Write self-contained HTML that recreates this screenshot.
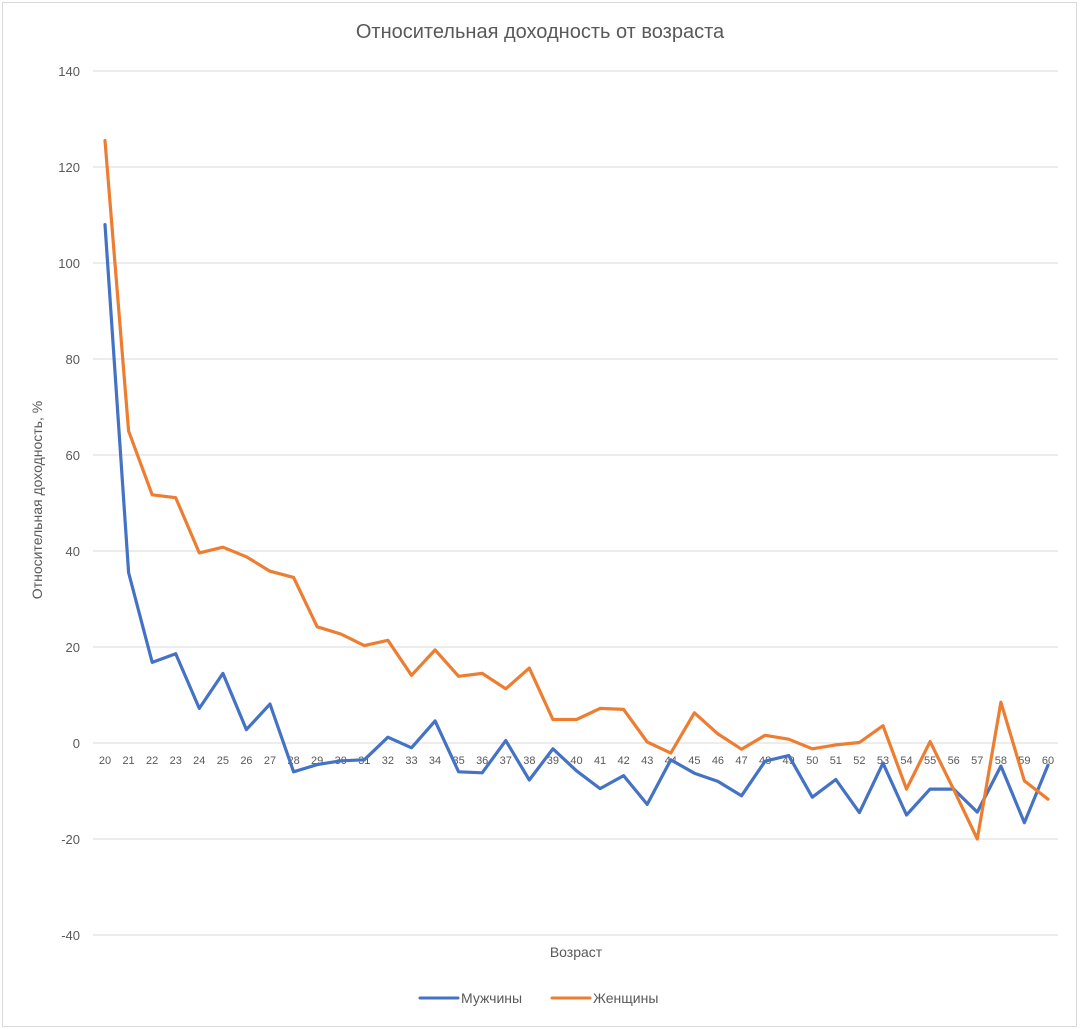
<!DOCTYPE html>
<html><head><meta charset="utf-8"><style>
body{margin:0;background:#fff}
svg{display:block;font-family:"Liberation Sans",sans-serif}
</style></head><body>
<svg id="s" width="1080" height="1029" xmlns="http://www.w3.org/2000/svg">
<rect x="2.5" y="2.5" width="1074" height="1024" fill="#fff" stroke="#d9d9d9"/>
<text x="540" y="38" font-size="20" fill="#595959" text-anchor="middle">Относительная доходность от возраста</text>
<text transform="translate(42,500) rotate(-90)" font-size="14" fill="#595959" text-anchor="middle">Относительная доходность, %</text>
<text x="576" y="957" font-size="14" fill="#595959" text-anchor="middle">Возраст</text>
<line x1="420" y1="998" x2="458" y2="998" stroke="#4472C4" stroke-width="3" stroke-linecap="round"/>
<text x="461" y="1003" font-size="14" fill="#595959">Мужчины</text>
<line x1="552" y1="998" x2="590" y2="998" stroke="#ED7D31" stroke-width="3" stroke-linecap="round"/>
<text x="593" y="1003" font-size="14" fill="#595959">Женщины</text>
<g id="g"></g>
</svg>
<script>
var g=document.getElementById('g'),ns='http://www.w3.org/2000/svg',h='';
function Y(v){return 743-v*4.8}
function X(i){return 105+i*23.575}
for(var v=-40;v<=140;v+=20){h+='<line x1="93" x2="1058" y1="'+Y(v)+'" y2="'+Y(v)+'" stroke="#d9d9d9" stroke-width="1"/>';
h+='<text x="80" y="'+(Y(v)+5)+'" font-size="13" fill="#595959" text-anchor="end">'+v+'</text>';}
for(var i=0;i<=40;i++)h+='<text x="'+X(i)+'" y="764" font-size="11" fill="#595959" text-anchor="middle">'+(20+i)+'</text>';
var m=[108,35.5,16.8,18.6,7.2,14.5,2.8,8.1,-6,-4.5,-3.7,-3.5,1.2,-1,4.6,-6,-6.2,0.5,-7.7,-1.2,-5.8,-9.5,-6.8,-12.8,-3.5,-6.3,-8,-11,-3.8,-2.6,-11.3,-7.6,-14.5,-4.2,-15,-9.6,-9.6,-14.4,-4.8,-16.6,-4.6];
var w=[125.5,65,51.7,51.1,39.6,40.8,38.8,35.8,34.5,24.2,22.7,20.3,21.4,14.1,19.4,13.9,14.5,11.3,15.6,4.9,4.9,7.2,7,0.2,-2.1,6.3,1.9,-1.3,1.6,0.8,-1.2,-0.4,0.1,3.6,-9.6,0.3,-9.7,-20,8.5,-7.9,-11.7];
function pl(d,c){return '<polyline fill="none" stroke="'+c+'" stroke-width="3.2" stroke-linejoin="round" stroke-linecap="round" points="'+d.map(function(v,i){return X(i).toFixed(1)+','+Y(v).toFixed(1)}).join(' ')+'"/>';}
h+=pl(m,'#4472C4')+pl(w,'#ED7D31');
g.innerHTML=h;
</script>
</body></html>
